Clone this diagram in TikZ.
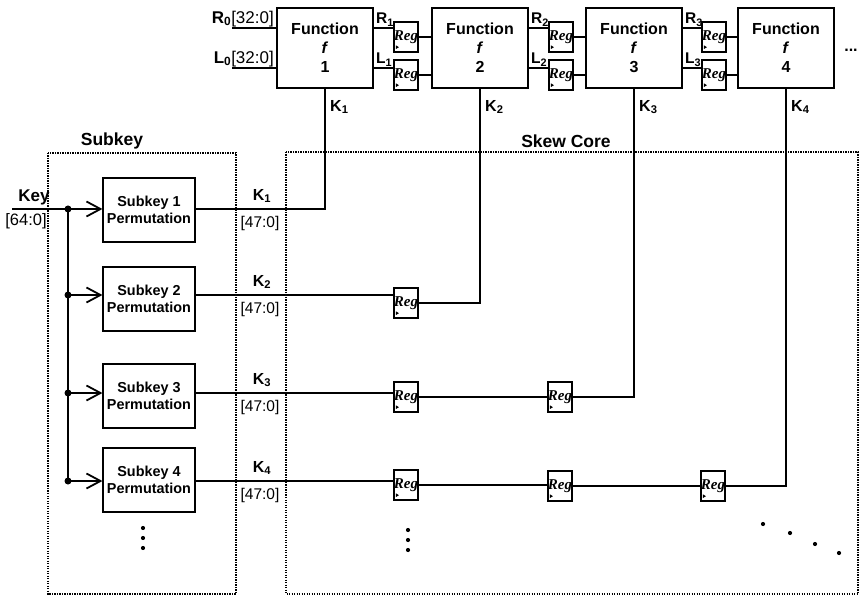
\documentclass[tikz,border=0pt]{standalone}
\usepackage{fontspec}
\setmainfont{Liberation Sans}
\newfontfamily\regfont{Liberation Serif}
\usetikzlibrary{positioning, arrows.meta}

\tikzset{
  wire/.style={line width=1.8pt},
  funcbox/.style={draw, line width=1.2pt, minimum width=96pt, minimum height=80pt,
    inner sep=0pt, align=center, font=\fontsize{16}{19}\selectfont\bfseries},
  keybox/.style={draw, line width=1.2pt, minimum width=92pt, minimum height=64pt,
    inner sep=0pt, align=center, font=\fontsize{14.4}{17}\selectfont\bfseries},
  regbox/.style={draw, line width=1.2pt, minimum width=24pt, minimum height=30pt,
    inner sep=0pt, font=\regfont\itshape\bfseries\fontsize{15}{15}\selectfont,
    path picture={\fill ([xshift=2pt,yshift=3pt]path picture bounding box.south west)
      -- ++(3pt,1.8pt) -- ++(-3pt,1.8pt) -- cycle;}},
  zone/.style={line width=1.3pt, dash pattern=on 1.3pt off 1.2pt},
  ttl/.style={font=\fontsize{17.5}{20}\selectfont\bfseries},
  klbl/.style={font=\fontsize{16}{18}\selectfont\bfseries, inner sep=1pt},
  rlbl/.style={font=\fontsize{15.5}{17}\selectfont\bfseries, inner sep=0.3pt},
  bus/.style={font=\fontsize{15.5}{17}\selectfont, inner sep=1pt},
  jdot/.style={circle, fill, inner sep=0pt, minimum size=7pt},
  dotmark/.style={circle, fill, inner sep=0pt, minimum size=4.2pt},
}
\newcommand{\kk}[1]{K\textsubscript{\bfseries #1}}

\begin{document}
\begin{tikzpicture}[x=1pt, y=-1pt]
  \useasboundingbox (0,0) rectangle (860,596);

  % round functions
  \node[funcbox] (f1) at (325,48) {Function\\\textit{f}\\1};
  \node[funcbox] (f2) at (480,48) {Function\\\textit{f}\\2};
  \node[funcbox] (f3) at (634,48) {Function\\\textit{f}\\3};
  \node[funcbox] (f4) at (786,48) {Function\\\textit{f}\\4};
  \node[font=\fontsize{16}{18}\selectfont\bfseries] (more) at (851,50) {...};

  % registers between rounds
  \node[regbox] (r1) at (406,37) {Reg};
  \node[regbox] (l1) at (406,75) {Reg};
  \node[regbox] (r2) at (561,37) {Reg};
  \node[regbox] (l2) at (561,75) {Reg};
  \node[regbox] (r3) at (714,37) {Reg};
  \node[regbox] (l3) at (714,75) {Reg};

  % inputs of round 1
  \coordinate (r0) at (232,28);
  \coordinate (l0) at (232,68);
  \draw[wire] (r0) -- (r0 -| f1.west);
  \draw[wire] (l0) -- (l0 -| f1.west);
  \node[anchor=south east, inner sep=1pt, font=\fontsize{17}{18}\selectfont] (r0lbl) at (275,28)
    {\textbf{R}\textsubscript{\bfseries 0}[32:0]};
  \node[anchor=south east, inner sep=1pt, font=\fontsize{17}{18}\selectfont] (l0lbl) at (275,68)
    {\textbf{L}\textsubscript{\bfseries 0}[32:0]};

  % chain f -> reg -> f
  \foreach \a/\b/\n in {f1/f2/1, f2/f3/2, f3/f4/3} {
    \draw[wire] ([yshift=20pt]\a.east) -- ([yshift=20pt]\a.east -| r\n.west);
    \draw[wire] (r\n.east) -- (r\n.east -| \b.west);
    \draw[wire] ([yshift=-20pt]\a.east) -- ([yshift=-20pt]\a.east -| l\n.west);
    \draw[wire] (l\n.east) -- (l\n.east -| \b.west);
    \node[rlbl, anchor=south west] at ([xshift=2pt,yshift=21pt]\a.east) {R\textsubscript{\bfseries\n}};
    \node[rlbl, anchor=south west] at ([xshift=2pt,yshift=-19pt]\a.east) {L\textsubscript{\bfseries\n}};
  }

  % zones
  \draw[zone] (48,153) rectangle (236,594);
  \draw[zone] (286,152) rectangle (858,594);
  \node[ttl] (subttl) at (112,141) {Subkey};
  \node[ttl] (skewttl) at (566,141) {Skew Core};

  % subkey permutations
  \node[keybox] (s1) at (149,210) {Subkey 1\\Permutation};
  \node[keybox] (s2) at (149,299) {Subkey 2\\Permutation};
  \node[keybox] (s3) at (149,396) {Subkey 3\\Permutation};
  \node[keybox] (s4) at (149,480) {Subkey 4\\Permutation};

  \coordinate (keyin) at (12,209);
  \coordinate (k1) at (68,209);
  \coordinate (k2) at (68,295);
  \coordinate (k3) at (68,393);
  \coordinate (k4) at (68,481);
  \draw[wire] (keyin) -- (k1);
  \draw[wire] (k1) -- (k4);
  \foreach \i in {1,...,4} {
    \draw[wire, -{Straight Barb[length=14pt, width=15pt]}] (k\i) -- (k\i -| s\i.west);
    \node[jdot] at (k\i) {};
  }
  \node[font=\fontsize{17}{19}\selectfont\bfseries] (keylbl) at (34,197) {Key};
  \node[bus, font=\fontsize{16.5}{18}\selectfont] (keybus) at (26,221) {[64:0]};

  % skew registers
  \node[regbox] (g21) at (406,303) {Reg};
  \node[regbox] (g31) at (406,397) {Reg};
  \node[regbox] (g32) at (560,397) {Reg};
  \node[regbox] (g41) at (406,485) {Reg};
  \node[regbox] (g42) at (560,486) {Reg};
  \node[regbox] (g43) at (713,486) {Reg};

  % subkey paths into the rounds
  \draw[wire] (k1 -| s1.east) -| (f1.south);
  \draw[wire] (k2 -| s2.east) -- (k2 -| g21.west);
  \draw[wire] (g21.east) -| (f2.south);
  \draw[wire] (k3 -| s3.east) -- (k3 -| g31.west);
  \draw[wire] (g31.east) -- (g31.east -| g32.west);
  \draw[wire] (g32.east) -| (f3.south);
  \draw[wire] (k4 -| s4.east) -- (k4 -| g41.west);
  \draw[wire] (g41.east) -- (g41.east -| g42.west);
  \draw[wire] (g42.east) -- (g42.east -| g43.west);
  \draw[wire] (g43.east) -| (f4.south);

  % K labels
  \foreach \f/\n in {f1/1, f2/2, f3/3, f4/4} {
    \node[klbl, anchor=west] at ([xshift=4pt]\f.south |- 0,107) {\kk{\n}};
  }
  \foreach \n/\y in {1/209, 2/295, 3/393, 4/481} {
    \node[klbl] at (262,\y-13) {\kk{\n}};
    \node[bus] at (260,\y+14) {[47:0]};
  }

  % continuation dots
  \foreach \y in {528,538,548} \node[dotmark] at (143,\y) {};
  \foreach \y in {530,540,550} \node[dotmark] at (408,\y) {};
  \foreach \x/\y in {763/524, 790/533, 815/544, 839/553} \node[dotmark] at (\x,\y) {};
\end{tikzpicture}
\end{document}
